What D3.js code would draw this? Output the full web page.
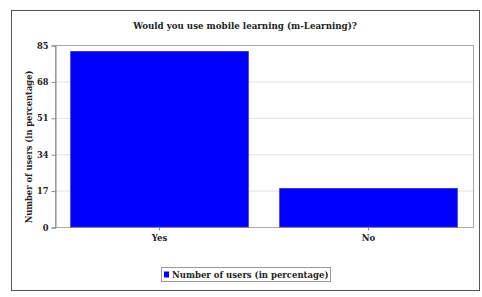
<!DOCTYPE html>
<html>
<head>
<meta charset="utf-8">
<script src="https://cdn.jsdelivr.net/npm/d3@7"></script>
<style>
  body { margin: 0; background: #fff; }
  text { font-family: "DejaVu Serif", Georgia, serif; font-weight: bold; fill: #222; }
</style>
</head>
<body>
<svg id="chart" width="482" height="297"></svg>
<script>
// chart data
var categories = ["Yes", "No"];
var values = [82, 18];
var yTicks = [0, 17, 34, 51, 68, 85];
var seriesName = "Number of users (in percentage)";
var title = "Would you use mobile learning (m-Learning)?";

var svg = d3.select("#chart");

// outer frame
svg.append("rect").attr("x", 11.5).attr("y", 10.5).attr("width", 468).attr("height", 280)
  .attr("fill", "#fff").attr("stroke", "#555").attr("stroke-width", 1);

var margin = { left: 55, top: 45, right: 473, bottom: 227 };

var x = d3.scaleBand().domain(categories).range([margin.left, margin.right])
  .paddingInner(0.15).paddingOuter(0.075);
var y = d3.scaleLinear().domain([0, 85]).range([margin.bottom, margin.top]);

// grid lines
svg.append("g").selectAll("line").data(yTicks.slice(1, -1)).enter().append("line")
  .attr("x1", margin.left).attr("x2", margin.right)
  .attr("y1", function (d) { return y(d) + 0.5; }).attr("y2", function (d) { return y(d) + 0.5; })
  .attr("stroke", "#e2e2e2");

// plot border
svg.append("rect").attr("x", margin.left + 0.5).attr("y", margin.top + 0.5)
  .attr("width", margin.right - margin.left).attr("height", margin.bottom - margin.top)
  .attr("fill", "none").attr("stroke", "#aaa");

// bars
svg.append("g").selectAll("rect").data(values).enter().append("rect")
  .attr("x", function (d, i) { return x(categories[i]); })
  .attr("y", function (d) { return y(d); })
  .attr("width", x.bandwidth())
  .attr("height", function (d) { return y(0) - y(d); })
  .attr("fill", "#0000ff").attr("stroke", "#3030c0").attr("stroke-width", 0.8);

// y axis
var yAxis = svg.append("g").attr("transform", "translate(" + (margin.left + 0.5) + ",0.5)")
  .call(d3.axisLeft(y).tickValues(yTicks).tickSize(4).tickPadding(3));
yAxis.select(".domain").attr("stroke", "#888");
yAxis.selectAll(".tick line").attr("stroke", "#888");
yAxis.selectAll("text").attr("font-size", 8.3).attr("font-family", "DejaVu Serif").attr("font-weight", "bold").attr("fill", "#222");

// x axis
var xAxis = svg.append("g").attr("transform", "translate(0," + (margin.bottom + 0.5) + ")")
  .call(d3.axisBottom(x).tickSize(3).tickPadding(4));
xAxis.select(".domain").remove();
xAxis.selectAll(".tick line").attr("stroke", "#888");
xAxis.selectAll("text").attr("font-size", 8.5).attr("font-family", "DejaVu Serif").attr("font-weight", "bold").attr("fill", "#222");

// title
svg.append("text").attr("x", 245).attr("y", 29).attr("text-anchor", "middle")
  .attr("font-size", 8.7).text(title);

// y label
svg.append("text").attr("transform", "translate(32,147) rotate(-90)")
  .attr("text-anchor", "middle").attr("font-size", 8.3).text(seriesName);

// legend
var lg = svg.append("g");
lg.append("rect").attr("x", 161.5).attr("y", 267.5).attr("width", 169).attr("height", 14)
  .attr("fill", "#fff").attr("stroke", "#999");
lg.append("rect").attr("x", 164).attr("y", 271.5).attr("width", 5).attr("height", 6).attr("fill", "#0000ff");
lg.append("text").attr("x", 172).attr("y", 277.5).attr("font-size", 8.5).text(seriesName);
</script>
</body>
</html>
